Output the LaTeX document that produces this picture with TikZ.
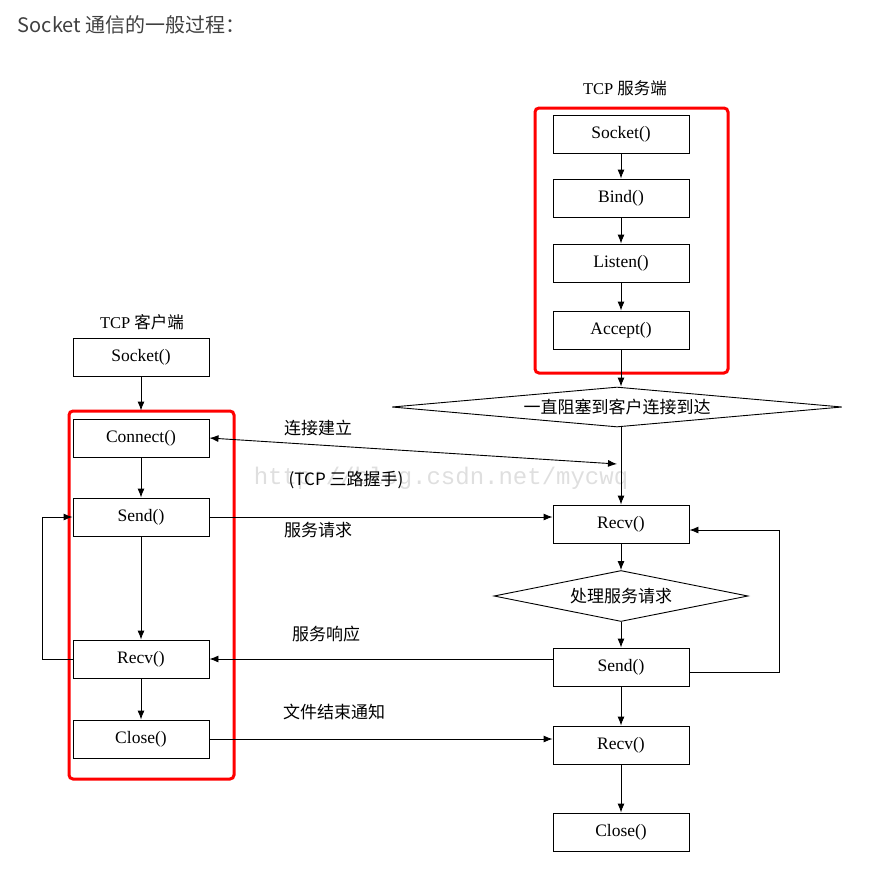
\documentclass[tikz,border=0pt]{standalone}
\usepackage{fontspec}
\setmainfont{Liberation Serif}
\newfontfamily\cjk{Noto Sans CJK SC}
\newfontfamily\wmfont{Liberation Mono}
\usetikzlibrary{arrows.meta,shapes.geometric}

\begin{document}
\begin{tikzpicture}[x=1pt, y=-1pt, line width=0.9pt, >={Latex[length=9pt,width=7pt]}, every node/.style={font=\fontsize{17.5}{20}\selectfont}, st/.style={draw, minimum width=136pt, minimum height=38pt, inner sep=0pt}, dm/.style={draw, diamond, inner sep=0pt, font=\cjk\fontsize{17}{20}\selectfont}, lb/.style={font=\cjk\fontsize{17}{20}\selectfont}, grp/.style={draw=red, line width=3pt, rounded corners=4pt}]
	\useasboundingbox (0,0) rectangle (896,876);
	\node[text=gray!25, font=\wmfont\fontsize{24}{26}\selectfont] (wm) at (441,478) {http://blog.csdn.net/mycwq};
	\node[anchor=west, text=black!75, font=\cjk\fontsize{20}{24}\selectfont] (title) at (14,25) {Socket 通信的一般过程：};
	\draw[grp] (69,411) rectangle (234,779);
	\draw[grp] (535,108) rectangle (728,373);
	\node[font=\fontsize{16.5}{19}\selectfont] (clab) at (142,322) {TCP {\cjk 客户端}};
	\node[st] (csock) at (141,357) {Socket()};
	\node[st] (cconn) at (141,438) {Connect()};
	\node[st] (csend) at (141,517) {Send()};
	\node[st] (crecv) at (141,659) {Recv()};
	\node[st] (cclose) at (141,739) {Close()};
	\node[font=\fontsize{16.5}{19}\selectfont] (slab) at (625,88) {TCP {\cjk 服务端}};
	\node[st] (ssock) at (621,134) {Socket()};
	\node[st] (sbind) at (621,198) {Bind()};
	\node[st] (slisten) at (621,263) {Listen()};
	\node[st] (saccept) at (621,330) {Accept()};
	\node[dm, shape aspect=11.25, minimum width=450pt, minimum height=40pt] (wait) at (617,407) {一直阻塞到客户连接到达};
	\node[st] (srecv) at (621,524) {Recv()};
	\node[dm, shape aspect=5, minimum width=254pt, minimum height=51pt] (proc) at (621,596) {处理服务请求};
	\node[st] (ssend) at (621,667) {Send()};
	\node[st] (srecv2) at (621,745) {Recv()};
	\node[st] (sclose) at (621,832) {Close()};
	\coordinate (hs) at (617,464);
	\node[lb] (l1) at (318,428) {连接建立};
	\node[lb] (l2) at (346,480) {(TCP 三路握手)};
	\node[lb] (l3) at (318,530) {服务请求};
	\node[lb] (l4) at (326,634) {服务响应};
	\node[lb] (l5) at (334,712) {文件结束通知};
	\draw[->, shorten >=8pt] (csock) -- (cconn);
	\foreach \a/\b in {cconn/csend, csend/crecv, crecv/cclose, ssock/sbind, sbind/slisten, slisten/saccept, srecv/proc, proc/ssend, ssend/srecv2, srecv2/sclose} {\draw[->] (\a) -- (\b);}
	\draw[->] (saccept.south) -- (saccept.south |- wait.north);
	\draw[->] (wait.south -| srecv.north) -- (srecv.north);
	\draw[<->] (cconn.east) -- (hs);
	\draw[->] (csend.east) -- (csend.east -| srecv.west);
	\draw[->] (crecv.east -| ssend.west) -- (crecv.east);
	\draw[->] (cclose.east) -- (cclose.east -| srecv2.west);
	\draw[->] (crecv.west) -- ++(-30,0) |- (csend.west);
	\draw[->] ([yshift=-5pt]ssend.east) -- ++(90,0) |- ([yshift=-6pt]srecv.east);
\end{tikzpicture}
\end{document}
